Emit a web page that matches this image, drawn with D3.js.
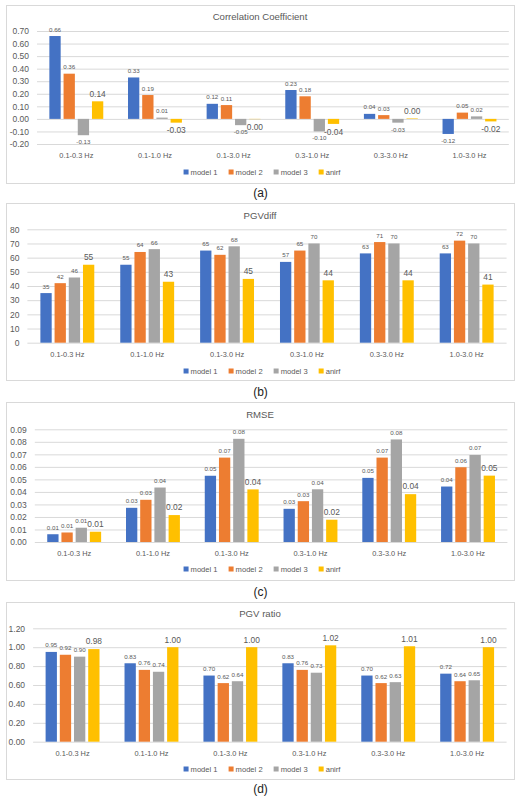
<!DOCTYPE html>
<html><head><meta charset="utf-8">
<script src="https://cdn.jsdelivr.net/npm/d3@7"></script>
<style>
body{margin:0;background:#fff}
svg{display:block}
text{font-family:"Liberation Sans",Arial,sans-serif}
</style>
</head><body>
<svg id="chart" width="525" height="803"></svg>
<script>
// ---------- data ----------
const categories = ["0.1-0.3 Hz","0.1-1.0 Hz","0.1-3.0 Hz","0.3-1.0 Hz","0.3-3.0 Hz","1.0-3.0 Hz"];
const seriesNames = ["model 1","model 2","model 3","anirf"];
const seriesColors = ["#4472C4","#ED7D31","#A5A5A5","#FFC000"];

// (a) Correlation Coefficient
const ccModel1 = [0.66, 0.33, 0.12, 0.23, 0.04, -0.12];
const ccModel2 = [0.36, 0.19, 0.11, 0.18, 0.03, 0.05];
const ccModel3 = [-0.13, 0.01, -0.05, -0.10, -0.03, 0.02];
const ccAnirf  = [0.14, -0.03, -0.002, -0.04, 0.004, -0.02];
const ccTicks  = [-0.2,-0.1,0,0.1,0.2,0.3,0.4,0.5,0.6,0.7];

// (b) PGVdiff
const pdModel1 = [35, 55, 65, 57, 63, 63];
const pdModel2 = [42, 64, 62, 65, 71, 72];
const pdModel3 = [46, 66, 68, 70, 70, 70];
const pdAnirf  = [55, 43, 45, 44, 44, 41];
const pdTicks  = [0,10,20,30,40,50,60,70,80];

// (c) RMSE
const rmModel1 = [0.0062, 0.0273, 0.0529, 0.0265, 0.0512, 0.0443];
const rmModel2 = [0.0076, 0.0337, 0.0674, 0.0326, 0.0674, 0.0597];
const rmModel3 = [0.0114, 0.0435, 0.0824, 0.0421, 0.0819, 0.0695];
const rmAnirf  = [0.0082, 0.0215, 0.0420, 0.0178, 0.0382, 0.0530];
const rmTicks  = [0,0.01,0.02,0.03,0.04,0.05,0.06,0.07,0.08,0.09];

// (d) PGV ratio
const prModel1 = [0.95, 0.83, 0.70, 0.83, 0.70, 0.72];
const prModel2 = [0.92, 0.76, 0.62, 0.76, 0.62, 0.64];
const prModel3 = [0.90, 0.74, 0.64, 0.73, 0.63, 0.65];
const prAnirf  = [0.98, 1.00, 1.00, 1.02, 1.01, 1.00];
const prTicks  = [0,0.2,0.4,0.6,0.8,1.0,1.2];

// ---------- layout ----------
const fmt2 = v => (Math.abs(v) < 0.005 ? 0 : v).toFixed(2);
const fmt0 = v => String(Math.round(v));

const panels = [
  {title:"Correlation Coefficient", caption:"(a)", series:[ccModel1,ccModel2,ccModel3,ccAnirf], ticks:ccTicks, fmt:fmt2,
   box:[5,183], titleY:16, yRange:[144,31], plotX:[37,508.8], catY:156, legY:172, capY:193},
  {title:"PGVdiff", caption:"(b)", series:[pdModel1,pdModel2,pdModel3,pdAnirf], ticks:pdTicks, fmt:fmt0,
   box:[203,380], titleY:215, yRange:[342.7,229.3], plotX:[27.4,506.6], catY:355, legY:371, capY:392},
  {title:"RMSE", caption:"(c)", series:[rmModel1,rmModel2,rmModel3,rmAnirf], ticks:rmTicks, fmt:fmt2,
   box:[402,580], titleY:414, yRange:[542,429.3], plotX:[34.8,507.4], catY:554, legY:569, capY:592},
  {title:"PGV ratio", caption:"(d)", series:[prModel1,prModel2,prModel3,prAnirf], ticks:prTicks, fmt:fmt2,
   box:[602,779], titleY:613, yRange:[741.7,628.3], plotX:[33.1,506.6], catY:754, legY:769, capY:789}
];

const svg = d3.select("#chart");
const textCol = "#595959";
const gridCol = "#D9D9D9";

panels.forEach(p => {
  const g = svg.append("g");
  // box
  g.append("rect").attr("x",6.5).attr("y",p.box[0]+0.5).attr("width",508).attr("height",p.box[1]-p.box[0])
    .attr("fill","#fff").attr("stroke",gridCol).attr("stroke-width",1);
  // title
  g.append("text").attr("x",260).attr("y",p.titleY).attr("text-anchor","middle").attr("dominant-baseline","central")
    .attr("font-size",9.6).attr("fill",textCol).text(p.title);

  const y = d3.scaleLinear().domain([p.ticks[0], p.ticks[p.ticks.length-1]]).range(p.yRange);
  const x0 = d3.scaleBand().domain(categories).range(p.plotX).padding(0);
  const groupW = 53.9;
  const x1 = d3.scaleBand().domain(seriesNames).range([0, groupW]).paddingInner(0.204).paddingOuter(0);

  // gridlines via axis
  const yAxis = d3.axisLeft(y).tickValues(p.ticks).tickFormat(p.fmt).tickSize(-(p.plotX[1]-p.plotX[0])).tickPadding(8);
  const ag = g.append("g").attr("transform",`translate(${p.plotX[0]},0)`).call(yAxis);
  ag.select(".domain").remove();
  ag.selectAll(".tick line").attr("stroke",gridCol).attr("stroke-width",1);
  ag.selectAll(".tick text").attr("fill",textCol).attr("font-size",8.5).attr("font-family","Liberation Sans, Arial, sans-serif");

  // category labels
  const xAxis = d3.axisBottom(x0).tickSize(0).tickPadding(0);
  const xg = g.append("g").attr("transform",`translate(0,${p.catY})`).call(xAxis);
  xg.select(".domain").remove();
  xg.selectAll(".tick text").attr("fill",textCol).attr("font-size",7.4).attr("dy","0.32em")
    .attr("font-family","Liberation Sans, Arial, sans-serif");

  // bars
  const data = [];
  categories.forEach((c,i) => p.series.forEach((s,j) => data.push({c, s:seriesNames[j], j, v:s[i]})));
  const off = (x0.bandwidth()-groupW)/2;
  const bx = d => x0(d.c) + off + x1(d.s);
  g.append("g").selectAll("rect").data(data).join("rect")
    .attr("x", bx).attr("width", x1.bandwidth())
    .attr("y", d => y(Math.max(0,d.v))).attr("height", d => Math.abs(y(d.v)-y(0)))
    .attr("fill", d => seriesColors[d.j]);

  // labels
  g.append("g").selectAll("text").data(data).join("text")
    .attr("x", d => bx(d) + x1.bandwidth()/2)
    .attr("y", d => {
      const big = d.j === 3; const fs = big ? 8.4 : 6.2; const gap = big ? 4.7 : 4.5;
      return d.v >= 0 ? y(d.v) - gap : y(d.v) + gap + fs*0.72;
    })
    .attr("text-anchor","middle").attr("fill",textCol)
    .attr("font-size", d => d.j === 3 ? 8.4 : 6.2)
    .text(d => p.fmt(d.v));

  // legend
  const lg = g.append("g");
  let cx = 0;
  seriesNames.forEach((n,j) => {
    lg.append("rect").attr("x",cx).attr("y",p.legY-2.5).attr("width",5).attr("height",5).attr("fill",seriesColors[j]);
    const t = lg.append("text").attr("x",cx+7).attr("y",p.legY).attr("dominant-baseline","central")
      .attr("font-size",7.6).attr("fill",textCol).text(n);
    cx += 7 + t.node().getComputedTextLength() + 11;
  });
  const lw = cx - 11;
  lg.attr("transform",`translate(${262 - lw/2},0)`);

  // caption
  svg.append("text").attr("x",260.5).attr("y",p.capY).attr("text-anchor","middle").attr("dominant-baseline","central")
    .attr("font-size",12).attr("fill","#222").attr("font-family","DejaVu Sans, sans-serif").text(p.caption);
});
</script>
</body></html>
